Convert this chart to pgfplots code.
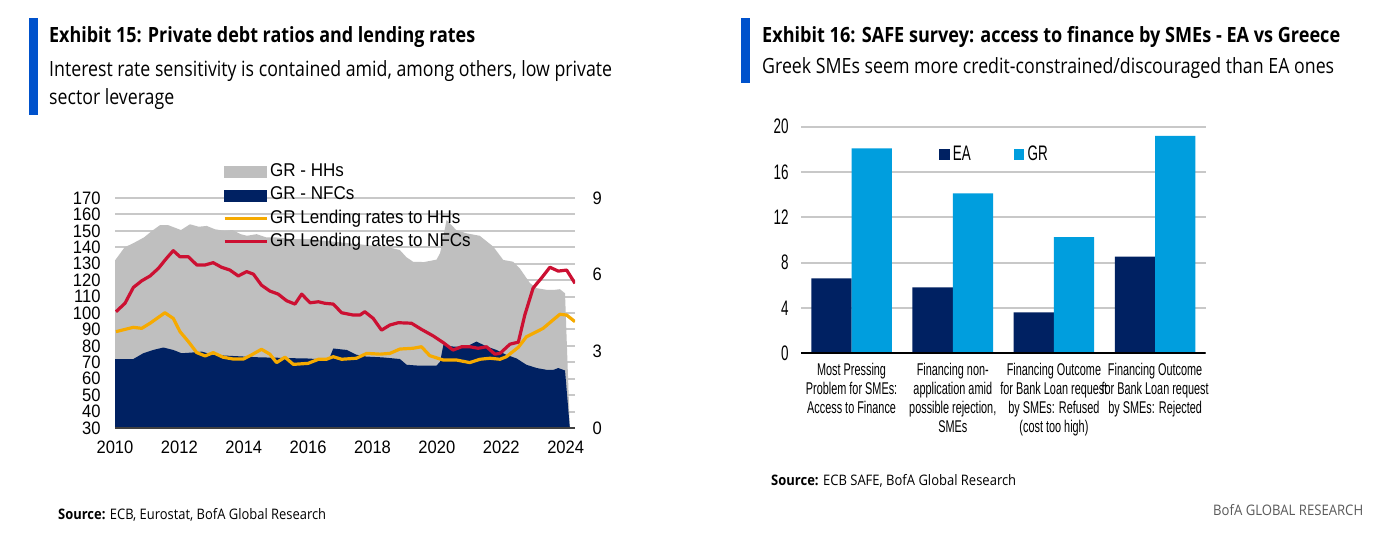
\documentclass[border=0pt]{standalone}
\usepackage{pgfplots}
\pgfplotsset{compat=1.18}
\usepackage{fontspec}
\usepackage{graphicx}
\setmainfont{Liberation Sans}
\newfontfamily\titlefont{Open Sans}
\newfontfamily\chartfont{Liberation Sans}[FakeStretch=0.92]
\newfontfamily\narrowfont{Liberation Sans}[FakeStretch=0.64]
\definecolor{titleblue}{RGB}{0,82,204}
\definecolor{hhgrey}{RGB}{191,191,191}
\definecolor{nfcnavy}{RGB}{0,33,98}
\definecolor{hhyellow}{RGB}{246,170,0}
\definecolor{nfcred}{RGB}{204,16,50}
\definecolor{eanavy}{RGB}{0,33,98}
\definecolor{grblue}{RGB}{0,158,222}
\definecolor{gridgrey}{RGB}{200,200,200}
\definecolor{footgrey}{RGB}{90,90,90}

\newcommand\fitw[2]{\setbox0=\hbox{#2}\pgfmathsetmacro\fitscale{(#1)/(\the\wd0)}\xdef\lastfit{\fitscale}\scalebox{\fitscale}[1]{\box0}}

\pgfplotstableread{
year val
2010.00 132
2010.30 140
2010.57 142.5
2010.90 146
2011.15 150
2011.40 153.5
2011.65 153.5
2011.85 152
2012.05 150.5
2012.33 154
2012.60 152.5
2012.85 153
2013.10 151
2013.40 150
2013.65 150.5
2013.90 148
2014.10 147
2014.40 148
2014.70 146
2015.00 146
2015.50 145
2016.00 145
2016.50 144
2017.00 143
2017.50 142
2018.00 141
2018.50 140
2018.85 138.3
2019.05 134
2019.26 131.2
2019.60 131
2019.99 132.5
2020.10 136.5
2020.30 156.6
2020.60 150.5
2020.92 148.5
2021.33 147
2021.75 140.4
2022.06 132.3
2022.37 131.2
2022.58 127
2022.89 118.2
2023.10 115.1
2023.41 114.1
2023.62 114
2023.82 114.5
2023.98 112
2024.13 30
}\hhdata

\pgfplotstableread{
year val
2010.00 72
2010.57 72
2010.88 75.5
2011.19 77.5
2011.50 79
2011.81 77.5
2012.07 75.5
2012.43 76
2012.70 76.5
2013.05 74.5
2013.50 74
2014.00 73.5
2014.50 73
2015.00 72.8
2015.50 72.5
2016.00 72.3
2016.40 71.8
2016.65 72
2016.78 78.4
2017.20 77.5
2017.50 74.6
2017.80 73.5
2018.30 73
2018.85 72
2019.06 68.5
2019.40 68
2019.99 68
2020.10 70.4
2020.20 80.5
2020.50 79.6
2020.92 79.6
2021.23 82.6
2021.55 79.6
2021.85 77.5
2022.16 74.5
2022.47 72.4
2022.78 68.5
2023.10 66.5
2023.41 65.4
2023.62 65.4
2023.77 66.5
2023.98 65
2024.13 30
}\nfcdata

\pgfplotstableread{
year val
2010.03 3.77
2010.57 3.94
2010.83 3.90
2011.09 4.10
2011.55 4.51
2011.81 4.29
2012.02 3.77
2012.28 3.38
2012.54 2.95
2012.80 2.82
2013.05 2.95
2013.36 2.77
2013.67 2.70
2013.99 2.70
2014.24 2.86
2014.55 3.08
2014.81 2.89
2015.02 2.56
2015.28 2.77
2015.54 2.49
2016.00 2.53
2016.32 2.69
2016.57 2.69
2016.78 2.79
2017.04 2.69
2017.50 2.73
2017.82 2.92
2018.23 2.89
2018.54 2.92
2018.85 3.09
2019.26 3.12
2019.52 3.18
2019.78 2.83
2020.20 2.66
2020.61 2.66
2021.02 2.56
2021.34 2.69
2021.65 2.73
2021.96 2.69
2022.16 2.79
2022.53 3.16
2022.78 3.57
2023.10 3.77
2023.30 3.90
2023.61 4.23
2023.82 4.45
2024.03 4.42
2024.29 4.16
}\hhrate

\pgfplotstableread{
year val
2010.03 4.55
2010.31 4.88
2010.57 5.50
2010.83 5.76
2011.09 5.95
2011.35 6.25
2011.60 6.64
2011.81 6.94
2012.02 6.70
2012.28 6.70
2012.54 6.38
2012.80 6.38
2013.05 6.47
2013.31 6.29
2013.57 6.18
2013.83 5.95
2014.09 6.12
2014.30 6.02
2014.55 5.59
2014.81 5.36
2015.07 5.24
2015.33 4.98
2015.59 4.85
2015.80 5.24
2016.06 4.90
2016.32 4.94
2016.52 4.88
2016.78 4.85
2017.04 4.51
2017.40 4.42
2017.61 4.42
2017.76 4.55
2018.02 4.29
2018.28 3.83
2018.54 4.03
2018.80 4.12
2019.21 4.10
2019.52 3.86
2019.89 3.60
2020.20 3.34
2020.50 3.05
2020.77 3.18
2021.02 3.18
2021.28 3.12
2021.54 3.18
2021.80 2.89
2021.96 2.92
2022.27 3.28
2022.53 3.36
2022.73 4.42
2022.99 5.48
2023.25 5.87
2023.51 6.29
2023.77 6.14
2024.03 6.18
2024.29 5.66
}\nfcrate

\begin{document}
\begin{tikzpicture}
\useasboundingbox (0,0) rectangle (1386bp,-534bp);
\fill[white] (0,0) rectangle (1386bp,-534bp);

% ---------- headers ----------
\fill[titleblue] (29bp,-18bp) rectangle (38bp,-115bp);
\fill[titleblue] (741bp,-18bp) rectangle (750bp,-83bp);
\node[anchor=base west, inner sep=0] at (49bp,-42bp)
  {\fitw{426bp}{\titlefont\bfseries\fontsize{21bp}{21bp}\selectfont Exhibit 15: Private debt ratios and lending rates}};
\node[anchor=base west, inner sep=0] at (49bp,-76bp)
  {\fitw{563bp}{\titlefont\fontsize{21bp}{21bp}\selectfont Interest rate sensitivity is contained amid, among others, low private}};
\node[anchor=base west, inner sep=0] at (49bp,-104bp)
  {\scalebox{\lastfit}[1]{\titlefont\fontsize{21bp}{21bp}\selectfont sector leverage}};
\node[anchor=base west, inner sep=0] at (762bp,-42bp)
  {\fitw{578bp}{\titlefont\bfseries\fontsize{21bp}{21bp}\selectfont Exhibit 16: SAFE survey: access to finance by SMEs - EA vs Greece}};
\node[anchor=base west, inner sep=0] at (762bp,-73bp)
  {\fitw{572bp}{\titlefont\fontsize{21bp}{21bp}\selectfont Greek SMEs seem more credit-constrained/discouraged than EA ones}};

% ---------- footers ----------
\node[anchor=base west, inner sep=0] at (58bp,-519bp)
  {\fitw{268bp}{\titlefont\fontsize{14.5bp}{14.5bp}\selectfont{\bfseries Source:} ECB, Eurostat, BofA Global Research}};
\node[anchor=base west, inner sep=0] at (771bp,-485bp)
  {\fitw{245bp}{\titlefont\fontsize{14.5bp}{14.5bp}\selectfont{\bfseries Source:} ECB SAFE, BofA Global Research}};
\node[anchor=base west, inner sep=0, text=footgrey] at (1213bp,-515bp)
  {\fitw{150bp}{\titlefont\fontsize{14.5bp}{14.5bp}\selectfont BofA GLOBAL RESEARCH}};

% ---------- left chart: debt ratios (left axis) ----------
\begin{axis}[
  at={(115bp,-428bp)}, anchor=south west,
  scale only axis, width=460bp, height=230bp,
  xmin=2010, xmax=2024.29, ymin=30, ymax=170,
  axis x line*=bottom, axis y line*=left,
  x axis line style={draw=none}, y axis line style={draw=none},
  major tick length=0pt,
  ytick={30,40,...,170},
  xtick={2010,2012,...,2024},
  ymajorgrids, grid style={gridgrey, line width=2bp},
  /pgf/number format/assume math mode=true,
  tick label style={font=\chartfont\fontsize{18bp}{18bp}\selectfont},
  x tick label style={/pgf/number format/1000 sep={}, yshift=-9bp},
  y tick label style={xshift=-11bp},
  clip=true,
]
\addplot[fill=hhgrey, draw=none] table[x=year,y=val] {\hhdata} \closedcycle;
\addplot[fill=nfcnavy, draw=none] table[x=year,y=val] {\nfcdata} \closedcycle;
\draw[black!75, line width=2bp] (rel axis cs:0,0) -- (rel axis cs:1,0);
\end{axis}

% ---------- left chart: lending rates (right axis) ----------
\begin{axis}[
  at={(115bp,-428bp)}, anchor=south west,
  scale only axis, width=460bp, height=230bp,
  xmin=2010, xmax=2024.29, ymin=0, ymax=9,
  axis x line=none, axis y line*=right,
  y axis line style={draw=none},
  major tick length=0pt,
  ytick={0,3,6,9},
  /pgf/number format/assume math mode=true,
  tick label style={font=\chartfont\fontsize{18bp}{18bp}\selectfont},
  y tick label style={xshift=14bp},
  legend style={at={(0.2348,1.156)}, anchor=north west, draw=none, fill=none,
    inner sep=0pt, outer sep=0pt, row sep=3.2bp,
    font=\chartfont\fontsize{18.5bp}{18.5bp}\selectfont,
    nodes={inner sep=2bp, text height=12.5bp, text depth=3.5bp}},
  legend cell align=left,
  legend image code/.code={\draw[#1, line width=3.2bp] (0bp,0bp) -- (42bp,0bp);},
]
\addlegendimage{legend image code/.code={\fill[hhgrey] (0bp,-5.5bp) rectangle (42bp,5.5bp);}}
\addlegendentry{GR - HHs}
\addlegendimage{legend image code/.code={\fill[nfcnavy] (0bp,-5.5bp) rectangle (42bp,5.5bp);}}
\addlegendentry{GR - NFCs}
\addplot[hhyellow, line width=3.2bp, line join=round] table[x=year,y=val] {\hhrate};
\addlegendentry{GR Lending rates to HHs}
\addplot[nfcred, line width=3.2bp, line join=round] table[x=year,y=val] {\nfcrate};
\addlegendentry{GR Lending rates to NFCs}
\end{axis}

% ---------- right chart: SAFE survey ----------
\begin{axis}[
  at={(801bp,-353.3bp)}, anchor=south west,
  scale only axis, width=404.7bp, height=226.6bp,
  xmin=-0.5, xmax=3.5, ymin=0, ymax=20,
  axis x line*=bottom, axis y line*=left,
  x axis line style={draw=none}, y axis line style={draw=none},
  major tick length=0pt,
  ytick={0,4,...,20},
  xtick={0,1,2,3},
  xticklabels={{Most Pressing\\Problem for SMEs:\\Access to Finance},
               {Financing non-\\application amid\\possible rejection,\\SMEs},
               {Financing Outcome\\for Bank Loan request\\by SMEs: Refused\\(cost too high)},
               {Financing Outcome\\for Bank Loan request\\by SMEs: Rejected}},
  ymajorgrids, grid style={gridgrey, line width=2bp},
  /pgf/number format/assume math mode=true,
  y tick label style={font=\narrowfont\fontsize{21bp}{21bp}\selectfont, xshift=-9bp},
  x tick label style={font=\narrowfont\fontsize{17bp}{19bp}\selectfont, align=center, yshift=-6bp},
  legend style={at={(0.341,0.8795)}, anchor=west, draw=none, fill=none,
    inner sep=0pt, outer sep=0pt,
    font=\narrowfont\fontsize{21bp}{21bp}\selectfont,
    /tikz/every odd column/.append style={column sep=3bp},
    /tikz/every even column/.append style={column sep=42bp},
    nodes={inner sep=1bp}},
  legend columns=2,
]
\addplot[ybar, bar width=40.3bp, bar shift=-20.15bp, fill=eanavy, draw=none, forget plot]
  coordinates {(0,6.62) (1,5.82) (2,3.62) (3,8.53)};
\addplot[ybar, bar width=40.3bp, bar shift=20.15bp, fill=grblue, draw=none, forget plot]
  coordinates {(0,18.09) (1,14.12) (2,10.26) (3,19.18)};
\draw[black, line width=2bp] (rel axis cs:0,0) -- (rel axis cs:1,0);
\addlegendimage{legend image code/.code={\fill[eanavy] (0bp,-5bp) rectangle (9.5bp,5bp);}}
\addlegendentry{EA}
\addlegendimage{legend image code/.code={\fill[grblue] (0bp,-5bp) rectangle (9.5bp,5bp);}}
\addlegendentry{GR}
\end{axis}
\end{tikzpicture}
\end{document}
